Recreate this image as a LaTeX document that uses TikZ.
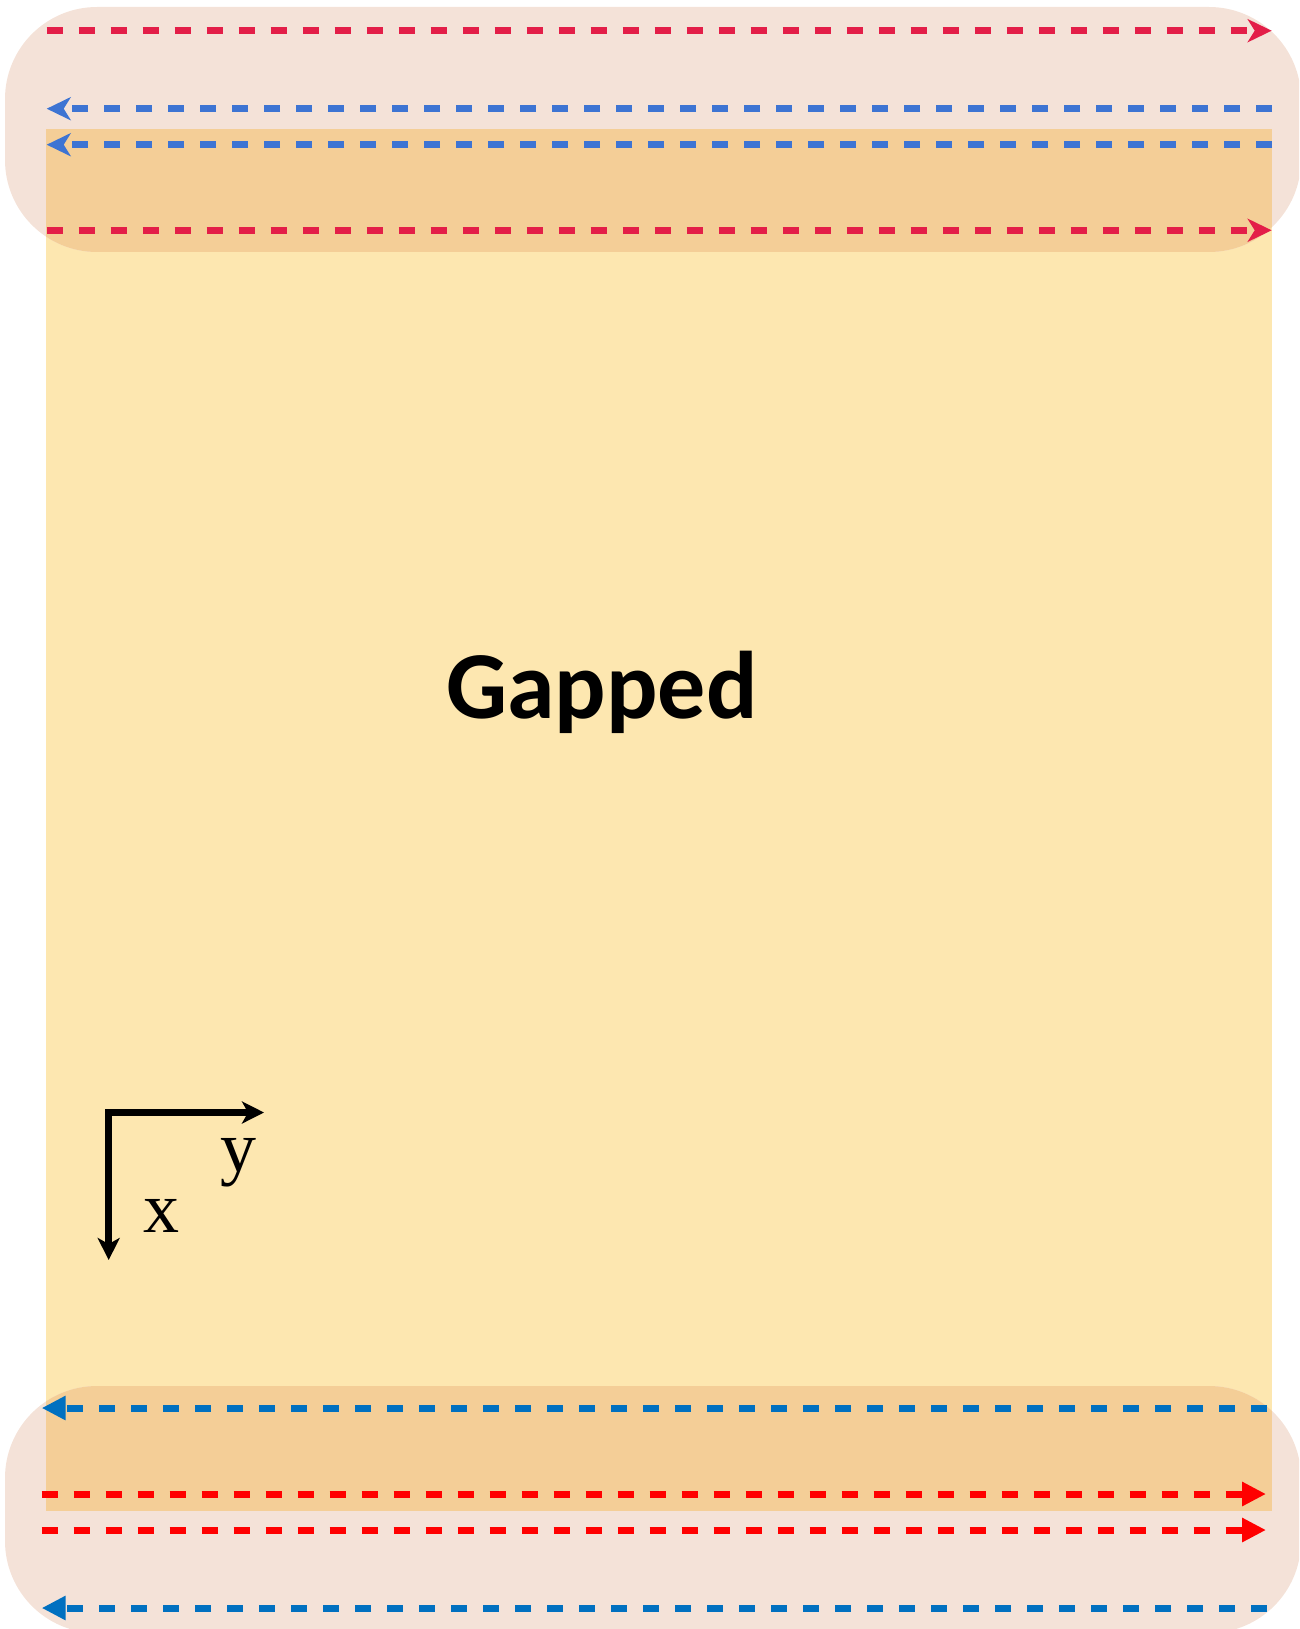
\documentclass[tikz,border=0pt]{standalone}
\usepackage{fontspec}
\usetikzlibrary{arrows.meta}
\newfontfamily\gapfont{Carlito}
\newfontfamily\axfont{Liberation Serif}
\definecolor{bgyellow}{HTML}{FDE7B0}
\definecolor{bgpink}{HTML}{F4E2D8}
\definecolor{bgorange}{HTML}{F4CE97}
\definecolor{topred}{HTML}{E31E48}
\definecolor{topblue}{HTML}{3D74D3}
\definecolor{botblue}{HTML}{0070C0}
\definecolor{botred}{HTML}{FF0000}
\tikzset{
  flow/.style={line width=7pt, dash pattern=on 16pt off 16pt},
  topflow/.style={flow, -{Stealth[length=24pt,width=23pt,inset=7pt]}},
  botflow/.style={flow, -{Triangle[length=24pt,width=23pt]}},
  axis/.style={line width=7pt, line join=miter, {Stealth[length=22pt,width=22pt,inset=6pt]}-{Stealth[length=22pt,width=22pt,inset=6pt]}},
  axlabel/.style={anchor=base, inner sep=0pt, font=\axfont\fontsize{72}{72}\selectfont},
}
\begin{document}
\begin{tikzpicture}[x=1pt,y=-1pt]
\useasboundingbox (0,0) rectangle (1299,1629);
\clip (0,0) rectangle (1299,1629);
% backgrounds
\fill[bgyellow] (46,129) rectangle (1272,1511);
\fill[bgpink, rounded corners=92pt] (5,7) rectangle (1301,252);
\fill[bgpink, rounded corners=92pt] (5,1386) rectangle (1301,1633);
\begin{scope}
  \clip[rounded corners=92pt] (5,7) rectangle (1301,252);
  \fill[bgorange] (46,129) rectangle (1272,1511);
\end{scope}
\begin{scope}
  \clip[rounded corners=92pt] (5,1386) rectangle (1301,1633);
  \fill[bgorange] (46,129) rectangle (1272,1511);
\end{scope}
% endpoints
\coordinate (r1a) at (46.5,30.7);   \coordinate (r1b) at (1271.7,30.7);
\coordinate (b1a) at (1272,108.7);  \coordinate (b1b) at (46.7,108.7);
\coordinate (b2a) at (1272,144.7);  \coordinate (b2b) at (46.7,144.7);
\coordinate (r2a) at (46.5,230.3);  \coordinate (r2b) at (1271.7,230.3);
\coordinate (b3a) at (1266.7,1408); \coordinate (b3b) at (41.7,1408);
\coordinate (r3a) at (41.7,1494);   \coordinate (r3b) at (1266,1494);
\coordinate (r4a) at (41.7,1530);   \coordinate (r4b) at (1266,1530);
\coordinate (b4a) at (1266.7,1608); \coordinate (b4b) at (41.7,1608);
% flows
\draw[topflow, topred] (r1a) -- (r1b);
\draw[topflow, topblue] (b1a) -- (b1b);
\draw[topflow, topblue] (b2a) -- (b2b);
\draw[topflow, topred] (r2a) -- (r2b);
\draw[botflow, botblue] (b3a) -- (b3b);
\draw[botflow, botred] (r3a) -- (r3b);
\draw[botflow, botred] (r4a) -- (r4b);
\draw[botflow, botblue] (b4a) -- (b4b);
% label
\node[anchor=base, inner sep=0pt, font=\gapfont\bfseries\fontsize{96}{96}\selectfont] (gap) at (602,718) {Gapped};
% axes
\coordinate (corner) at (108.7,1112.5);
\coordinate (yend) at (264,1112.5);
\coordinate (xend) at (108.7,1260);
\draw[axis] (xend) -- (corner) -- (yend);
\node[axlabel] (ylab) at (238,1171) {y};
\node[axlabel] (xlab) at (161,1232) {x};
\end{tikzpicture}
\end{document}
